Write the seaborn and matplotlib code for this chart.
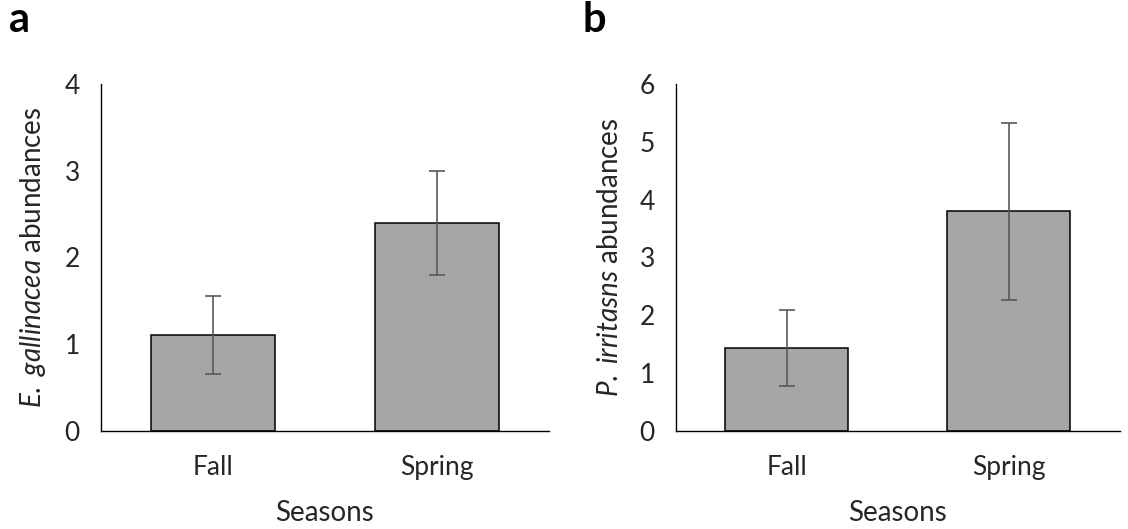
import matplotlib
matplotlib.use("Agg")
import matplotlib.pyplot as plt
import seaborn as sns
import pandas as pd

seasons = ["Fall", "Spring"]
egal_mean = [1.11, 2.40]
egal_err = [0.45, 0.60]
pirr_mean = [1.43, 3.80]
pirr_err = [0.66, 1.53]

sns.set_theme(style="white")
plt.rcParams["font.family"] = ["Lato", "DejaVu Sans"]
plt.rcParams["mathtext.fontset"] = "custom"
plt.rcParams["mathtext.rm"] = "Lato"
plt.rcParams["mathtext.it"] = "Lato:italic"

fig = plt.figure(figsize=(11.28, 5.29), dpi=100)
ax_a = fig.add_axes([0.0893, 0.1853, 0.3971, 0.6559])
ax_b = fig.add_axes([0.5990, 0.1853, 0.3936, 0.6559])

panels = [
    (ax_a, egal_mean, egal_err, 4, r"$\mathit{E.}$ $\mathit{gallinacea}$ abundances", "a", 0.008),
    (ax_b, pirr_mean, pirr_err, 6, r"$\mathit{P.}$ $\mathit{irritasns}$ abundances", "b", 0.516),
]

for ax, means, errs, ymax, ylab, letter, lx in panels:
    df = pd.DataFrame({"Season": seasons, "Abundance": means})
    sns.barplot(data=df, x="Season", y="Abundance", ax=ax, color="#A6A6A6",
                saturation=1, width=0.555, edgecolor="black", linewidth=1.1,
                errorbar=None)
    xs = [p.get_x() + p.get_width() / 2 for p in ax.patches]
    ax.errorbar(xs, means, yerr=errs, fmt="none", ecolor="#595959",
                elinewidth=1.2, capsize=5.5, capthick=1.2)
    ax.set_xlim(-0.5, 1.5)
    ax.set_ylim(0, ymax)
    ax.set_yticks(range(0, ymax + 1))
    ax.set_xticks([0, 1, 1.5])
    ax.set_xticklabels(seasons + [""])
    for s in ["top", "right"]:
        ax.spines[s].set_visible(False)
    for s in ["left", "bottom"]:
        ax.spines[s].set_color("black")
        ax.spines[s].set_linewidth(1.0)
    ax.tick_params(axis="both", direction="out", length=6, width=1.0,
                   color="black", labelsize=19, labelcolor="#262626")
    ax.tick_params(axis="x", pad=11)
    ax.tick_params(axis="y", pad=9)
    ax.set_xlabel("Seasons", fontsize=20, color="#262626", labelpad=15)
    ax.set_ylabel(ylab, fontsize=20, color="#262626", labelpad=12)
    fig.text(lx, 0.962, letter, fontsize=30, fontweight="bold", ha="left",
             va="center", color="black")

fig.savefig("out.png", dpi=100)
